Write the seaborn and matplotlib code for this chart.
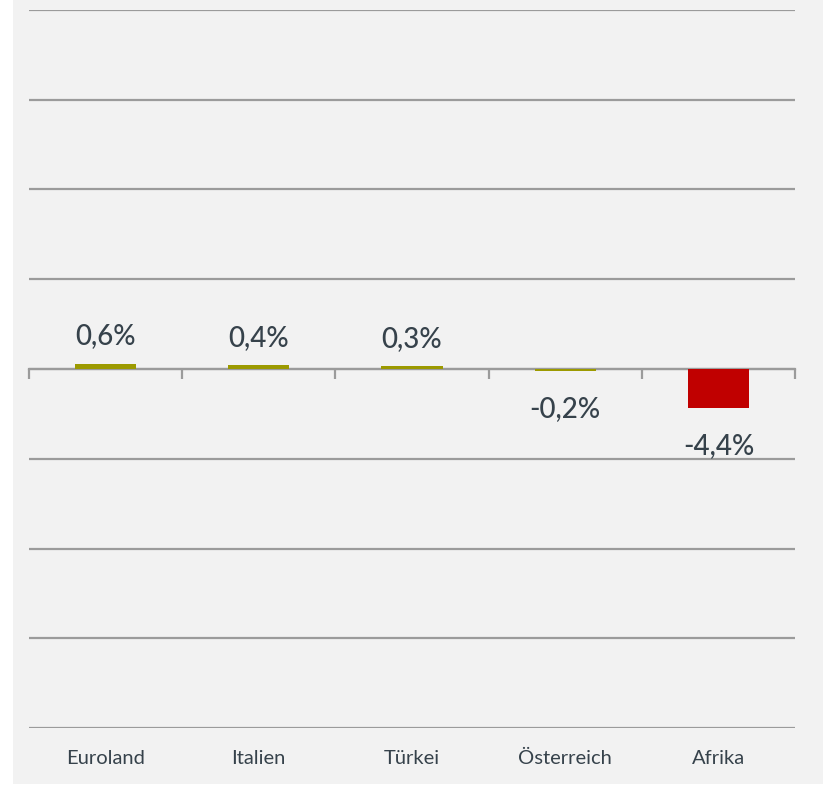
import matplotlib
matplotlib.use("Agg")
import matplotlib.pyplot as plt
from matplotlib.patches import Rectangle
import numpy as np
import pandas as pd
import seaborn as sns

# data
categories = ["Euroland", "Italien", "Türkei", "Österreich", "Afrika"]
values = [0.6, 0.4, 0.3, -0.2, -4.4]
labels = ["0,6%", "0,4%", "0,3%", "-0,2%", "-4,4%"]
bar_colors = ["#9c9a00", "#9c9a00", "#9c9a00", "#9c9a00", "#c00000"]
y_ticks = [-40, -30, -20, -10, 0, 10, 20, 30, 40]

BG = "#f2f2f2"
GRID = "#9b9b9b"
TEXT = "#36424b"

sns.set_style("white")
plt.rcParams["font.family"] = ["Lato", "DejaVu Sans"]

fig = plt.figure(figsize=(8.23, 7.86), dpi=100, facecolor="white")
fig.patches.append(Rectangle((13 / 823, 2 / 786), 1 - 13 / 823, 1 - 2 / 786,
                             transform=fig.transFigure, facecolor=BG,
                             edgecolor="none", zorder=-10))

ax = fig.add_axes([29 / 823, 1 - 728 / 786, (795 - 29) / 823, (728 - 10) / 786])
ax.set_facecolor("none")

df = pd.DataFrame({"cat": categories, "val": values})
sns.barplot(data=df, x="cat", y="val", hue="cat", palette=bar_colors,
            legend=False, width=0.4, saturation=1, linewidth=0,
            edgecolor="none", ax=ax, zorder=3)

ax.set_ylim(y_ticks[0], y_ticks[-1])
ax.set_xlim(-0.5, len(categories) - 0.5)
ax.set_yticks(y_ticks)
ax.yaxis.grid(True, color=GRID, linewidth=1.6)
ax.set_axisbelow(True)
ax.tick_params(axis="y", left=False, labelleft=False)
ax.tick_params(axis="x", length=0, pad=16, labelsize=14.5, labelcolor=TEXT)
for s in ax.spines.values():
    s.set_visible(False)
ax.set_xlabel("")
ax.set_ylabel("")

# zero line with category separators
sec = ax.secondary_xaxis(0.5)
sec.set_alignment("bottom")
sec.set_xticks(np.arange(len(categories) + 1) - 0.5)
sec.tick_params(axis="x", direction="out", length=7, width=1.6, color=GRID,
                labelbottom=False)
sec.spines["bottom"].set_color(GRID)
sec.spines["bottom"].set_linewidth(1.6)

for i, (v, lab) in enumerate(zip(values, labels)):
    off = 14 if v >= 0 else -33
    ax.annotate(lab, (i, v), xytext=(0, off), textcoords="offset points",
                ha="center", va="baseline", fontsize=20, fontweight="medium",
                color=TEXT)

fig.savefig("out.png", dpi=100, facecolor=fig.get_facecolor())
